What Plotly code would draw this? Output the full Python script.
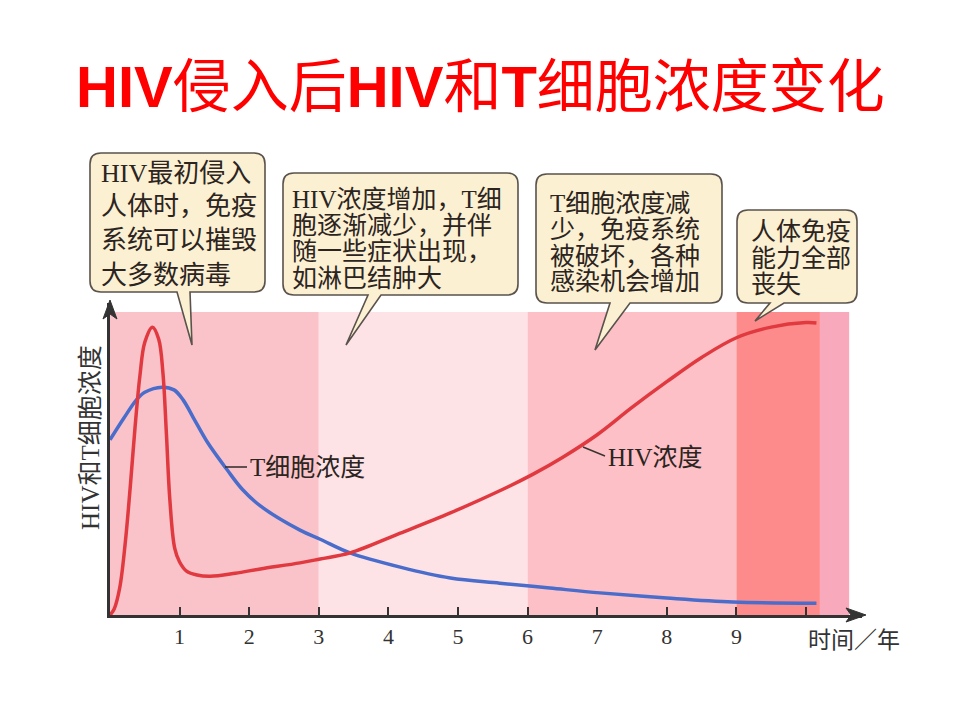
import plotly.graph_objects as go

# ---------------- data ----------------
hiv_x = [0, 0.06, 0.14, 0.22, 0.29, 0.36, 0.43, 0.50, 0.61, 0.70, 0.76, 0.81, 0.86, 0.93,
         1.0, 1.1, 1.25, 1.44, 1.8, 2.16, 2.73, 3.02, 3.45, 4.17, 4.89, 5.6, 6.08, 6.5,
         7.0, 7.5, 8.0, 8.5, 9.0, 9.5, 10.0, 10.15]
hiv_y = [0, 2, 9, 24, 42, 62, 79, 90, 95, 91, 80, 60, 38, 22,
         17.5, 14.5, 13.2, 12.8, 13.8, 15.2, 17.2, 18.5, 20.5, 27, 33.7, 41, 46.5, 52,
         59.5, 68.5, 77, 85, 91.5, 95, 96.5, 96.4]

t_x = [0, 0.2, 0.38, 0.5, 0.75, 0.92, 1.05, 1.2, 1.4, 1.68, 1.9, 2.16, 2.73, 3.02, 3.45,
       4.17, 4.89, 5.6, 6.32, 7.04, 8.0, 8.95, 10.15]
t_y = [57.8, 65, 71, 73.5, 75.2, 74.3, 71, 65, 57, 48, 41.5, 36, 28, 25, 20.5,
       15.8, 12.2, 10.5, 8.9, 7.3, 5.6, 4.3, 3.9]

stage_bounds = [0, 3, 6, 9, 10.2, 10.62]
stage_colors = ["#f9c3c9", "#fde3e6", "#fcc0c6", "#fd8b8b", "#f8a9bc"]

tick_vals = [1, 2, 3, 4, 5, 6, 7, 8, 9, 10]
tick_text = ["1", "2", "3", "4", "5", "6", "7", "8", "9", ""]

title_text = "<b>HIV</b>侵入后<b>HIV</b>和<b>T</b>细胞浓度变化"
y_title = "HIV和T细胞浓度"
x_title = "时间／年"
hiv_label = "HIV浓度"
t_label = "T细胞浓度"

callouts = [
    ["HIV最初侵入", "人体时，免疫", "系统可以摧毁", "大多数病毒"],
    ["HIV浓度增加，T细", "胞逐渐减少，并伴", "随一些症状出现，", "如淋巴结肿大"],
    ["T细胞浓度减", "少，免疫系统", "被破坏，各种", "感染机会增加"],
    ["人体免疫", "能力全部", "丧失"],
]

# ---------------- layout geometry (pixels) ----------------
W, H = 960, 720
AX_L, AX_R, AX_B, AX_T = 110, 862, 615, 303
PX_PER_X = 69.6
PX_PER_Y = 3.03
XMAX = (AX_R - AX_L) / PX_PER_X
YMAX = (AX_B - AX_T) / PX_PER_Y
SHADE_TOP = 100


def px(x):
    return x / W


def py(y):
    return 1 - y / H


SERIF = "Liberation Serif, Noto Sans CJK SC"
TXT = "#2b2421"

fig = go.Figure()
fig.add_trace(go.Scatter(x=t_x, y=t_y, mode="lines", name="T细胞浓度",
                         line=dict(color="#4a6ccb", width=3.5, shape="spline", smoothing=1.0),
                         hoverinfo="skip"))
fig.add_trace(go.Scatter(x=hiv_x, y=hiv_y, mode="lines", name="HIV浓度",
                         line=dict(color="#e0393f", width=3.5, shape="spline", smoothing=1.0),
                         hoverinfo="skip"))

shapes = []
for i, c in enumerate(stage_colors):
    shapes.append(dict(type="rect", xref="x", yref="y", x0=stage_bounds[i], x1=stage_bounds[i + 1],
                       y0=0, y1=SHADE_TOP, fillcolor=c, line=dict(width=0), layer="below"))


def poly(pts):
    return "M " + " L ".join(f"{px(a):.5f},{py(b):.5f}" for a, b in pts) + " Z"


shapes.append(dict(type="path", xref="paper", yref="paper",
                   path=poly([(866, AX_B), (846, AX_B - 7), (851, AX_B), (846, AX_B + 7)]),
                   fillcolor="#333333", line=dict(color="#333333", width=1)))
shapes.append(dict(type="path", xref="paper", yref="paper",
                   path=poly([(AX_L, AX_T - 3), (AX_L - 7, AX_T + 16), (AX_L, AX_T + 11), (AX_L + 7, AX_T + 16)]),
                   fillcolor="#333333", line=dict(color="#333333", width=1)))


def bubble(x0, y0, x1, y1, r, bx0, bx1, tx, ty):
    P = lambda a, b: f"{px(a):.5f},{py(b):.5f}"
    return (f"M {P(x0 + r, y0)} L {P(x1 - r, y0)} Q {P(x1, y0)} {P(x1, y0 + r)} "
            f"L {P(x1, y1 - r)} Q {P(x1, y1)} {P(x1 - r, y1)} "
            f"L {P(bx1, y1)} L {P(tx, ty)} L {P(bx0, y1)} "
            f"L {P(x0 + r, y1)} Q {P(x0, y1)} {P(x0, y1 - r)} "
            f"L {P(x0, y0 + r)} Q {P(x0, y0)} {P(x0 + r, y0)} Z")


boxes = [
    dict(rect=(90, 153, 265, 292), tail=(177, 190, 192, 345), tx=99, ly=[173, 207, 241, 275], fs=26),
    dict(rect=(283, 173, 518, 295), tail=(368, 381, 346, 345), tx=290, ly=[199, 225, 252, 278], fs=25),
    dict(rect=(536, 174, 722, 303), tail=(610, 630, 595, 350), tx=548, ly=[203, 229, 256, 282], fs=25),
    dict(rect=(737, 210, 857, 303), tail=(770, 784, 755, 321), tx=749, ly=[232, 258, 285], fs=25),
]

annotations = []
for b, lines in zip(boxes, callouts):
    x0, y0, x1, y1 = b["rect"]
    shapes.append(dict(type="path", xref="paper", yref="paper",
                       path=bubble(x0, y0, x1, y1, 11, *b["tail"]),
                       fillcolor="#fcf0d2", line=dict(color="#5a524c", width=1.6), layer="above"))
    for ln, yy in zip(lines, b["ly"]):
        annotations.append(dict(xref="paper", yref="paper", x=px(b["tx"]), y=py(yy),
                                xanchor="left", yanchor="middle", showarrow=False, text=ln,
                                font=dict(family=SERIF, size=b["fs"], color=TXT)))

shapes.append(dict(type="line", xref="paper", yref="paper", x0=px(225), y0=py(467), x1=px(247), y1=py(467),
                   line=dict(color="#3a3330", width=1.6)))
shapes.append(dict(type="line", xref="paper", yref="paper", x0=px(583), y0=py(447), x1=px(605), y1=py(456),
                   line=dict(color="#3a3330", width=1.4)))

annotations += [
    dict(xref="paper", yref="paper", x=0.5, y=py(86), xanchor="center", yanchor="middle",
         showarrow=False, text=title_text,
         font=dict(family="Liberation Sans, Noto Sans CJK SC", size=58, color="#ff0000")),
    dict(xref="paper", yref="paper", x=px(91), y=py(438), xanchor="center", yanchor="middle",
         showarrow=False, text=y_title, textangle=-90,
         font=dict(family=SERIF, size=25, color="#333333")),
    dict(xref="paper", yref="paper", x=px(806), y=py(640), xanchor="left", yanchor="middle",
         showarrow=False, text=x_title, font=dict(family=SERIF, size=23, color="#333333")),
    dict(xref="paper", yref="paper", x=px(248), y=py(467), xanchor="left", yanchor="middle",
         showarrow=False, text=t_label, font=dict(family=SERIF, size=25, color=TXT)),
    dict(xref="paper", yref="paper", x=px(606), y=py(457), xanchor="left", yanchor="middle",
         showarrow=False, text=hiv_label, font=dict(family=SERIF, size=25, color=TXT)),
]

fig.update_layout(
    width=W, height=H, margin=dict(l=0, r=0, t=0, b=0),
    paper_bgcolor="white", plot_bgcolor="white", showlegend=False,
    shapes=shapes, annotations=annotations,
    xaxis=dict(domain=[px(AX_L), px(AX_R)], range=[0, XMAX], showgrid=False, zeroline=False,
               showline=True, linecolor="#333333", linewidth=2.5,
               ticks="inside", ticklen=8, tickwidth=1.5, tickcolor="#333333",
               tickvals=tick_vals, ticktext=tick_text, ticklabelstandoff=0,
               tickfont=dict(family="Liberation Serif", size=22, color="#333333"), fixedrange=True),
    yaxis=dict(domain=[1 - AX_B / H, 1 - AX_T / H], range=[0, YMAX], showgrid=False, zeroline=False,
               showline=True, linecolor="#333333", linewidth=2.5, ticks="", showticklabels=False,
               fixedrange=True),
)

fig.write_html("out.html")
